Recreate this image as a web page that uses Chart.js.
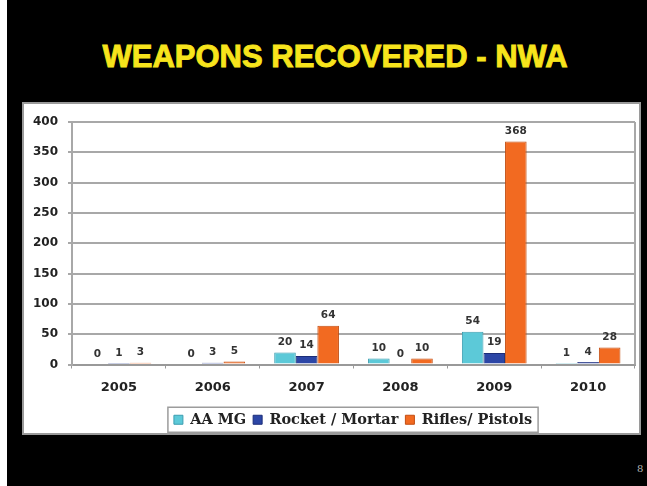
<!DOCTYPE html>
<html>
<head>
<meta charset="utf-8">
<title>Weapons Recovered - NWA</title>
<script src="https://cdn.jsdelivr.net/npm/chart.js@4.4.0/dist/chart.umd.min.js"></script>
<style>
  html, body { margin: 0; padding: 0; }
  body { width: 647px; height: 486px; background: #000; position: relative; overflow: hidden; }
  .edge { position: absolute; left: 0; top: 0; width: 7px; height: 486px; background: #fff; }
  h1 { position: absolute; left: 0; top: 38px; width: 670px; margin: 0; text-align: center;
       color: #f7e41c; font: bold 31px "Liberation Sans", Arial, sans-serif; line-height: 38px;
       -webkit-text-stroke: 0.9px #f7e41c; }
  .panel { position: absolute; left: 22px; top: 102px; width: 619px; height: 333px; box-sizing: border-box;
           background: #fff; border: 2px solid #9a9a9a; overflow: hidden; }
  .chart-box { position: absolute; left: 0; top: 0; width: 658px; height: 340px; }
  .page { position: absolute; left: 637px; top: 463px; color: #b5b5b5; font: 10px "DejaVu Serif", serif; }
</style>
</head>
<body>
<div class="edge"></div>
<h1>WEAPONS RECOVERED - NWA</h1>
<div class="panel">
  <div class="chart-box"><canvas id="weaponsChart"></canvas></div>
</div>
<div class="page">8</div>

<script>
// anos e quantidades recuperadas por tipo
const years = ['2005', '2006', '2007', '2008', '2009', '2010'];
const aaMg = [0, 0, 20, 10, 54, 1];
const rocketMortar = [1, 3, 14, 0, 19, 4];
const riflesPistols = [3, 5, 64, 10, 368, 28];
const yTicks = [0, 50, 100, 150, 200, 250, 300, 350, 400];

// escreve o valor em cima de cada barra
const valueLabels = {
    id: 'valueLabels',
    afterDatasetsDraw(chart) {
        const ctx = chart.ctx;
        ctx.save();
        ctx.font = 'bold 10.5px "DejaVu Sans", sans-serif';
        ctx.fillStyle = '#333';
        ctx.textAlign = 'center';
        ctx.textBaseline = 'bottom';
        chart.data.datasets.forEach((ds, i) => {
            chart.getDatasetMeta(i).data.forEach((bar, j) => {
                ctx.fillText(String(ds.data[j]), bar.x, bar.y - 5);
            });
        });
        ctx.restore();
    }
};

// borda direita da área do gráfico e moldura da legenda
const frames = {
    id: 'frames',
    afterDraw(chart) {
        const ctx = chart.ctx;
        const area = chart.chartArea;
        ctx.save();
        ctx.strokeStyle = '#a8a8a8';
        ctx.lineWidth = 2;
        ctx.beginPath();
        ctx.moveTo(area.right, area.top);
        ctx.lineTo(area.right, area.bottom);
        ctx.stroke();

        const boxes = chart.legend.legendHitBoxes;
        if (boxes && boxes.length) {
            const left = Math.min(...boxes.map(b => b.left)) - 6;
            const right = Math.max(...boxes.map(b => b.left + b.width)) + 6;
            const mid = boxes[0].top + boxes[0].height / 2;
            ctx.strokeStyle = '#9c9c9c';
            ctx.lineWidth = 1.5;
            ctx.strokeRect(left, mid - 12.5, right - left, 25);
        }
        ctx.restore();
    }
};

const ctx = document.getElementById('weaponsChart').getContext('2d');
new Chart(ctx, {
    type: 'bar',
    data: {
        labels: years,
        datasets: [
            { label: 'AA MG', data: aaMg, backgroundColor: '#5cc9d8', borderColor: '#3b9db0', borderWidth: 1 },
            { label: 'Rocket / Mortar', data: rocketMortar, backgroundColor: '#2c46a6', borderColor: '#1c2d78', borderWidth: 1 },
            { label: 'Rifles/ Pistols', data: riflesPistols, backgroundColor: '#f26a21', borderColor: '#c24e12', borderWidth: 1 }
        ]
    },
    options: {
        responsive: true,
        maintainAspectRatio: false,
        animation: false,
        layout: { padding: { left: 0, right: 0, top: 18, bottom: 7 } },
        datasets: { bar: { categoryPercentage: 0.69, barPercentage: 1 } },
        plugins: {
            title: { display: false },
            tooltip: { enabled: false },
            legend: {
                position: 'bottom',
                labels: {
                    boxWidth: 9,
                    boxHeight: 9,
                    padding: 7,
                    color: '#222',
                    font: { family: '"DejaVu Serif", serif', weight: 'bold', size: 14.5 }
                }
            }
        },
        scales: {
            x: {
                afterFit: s => { s.height = 41; },
                grid: { display: true, drawOnChartArea: false, drawTicks: true, tickLength: 4, color: '#999' },
                border: { color: '#999', width: 2 },
                ticks: { padding: 11, color: '#222', font: { family: '"DejaVu Sans", sans-serif', weight: 'bold', size: 13 } }
            },
            y: {
                min: 0,
                max: 400,
                afterFit: s => { s.width = 48; },
                afterBuildTicks: s => { s.ticks = yTicks.map(v => ({ value: v })); },
                grid: { color: '#a8a8a8', lineWidth: 2, tickLength: 4 },
                border: { color: '#a8a8a8', width: 2 },
                ticks: { padding: 10, color: '#222', font: { family: '"DejaVu Sans", sans-serif', weight: 'bold', size: 12 } }
            },
            // eixo vazio à direita, só reserva espaço para centralizar a legenda
            spacer: {
                type: 'linear',
                position: 'right',
                afterFit: s => { s.width = 47; },
                grid: { display: false },
                border: { display: false },
                ticks: { display: false }
            }
        }
    },
    plugins: [valueLabels, frames]
});
</script>
</body>
</html>
